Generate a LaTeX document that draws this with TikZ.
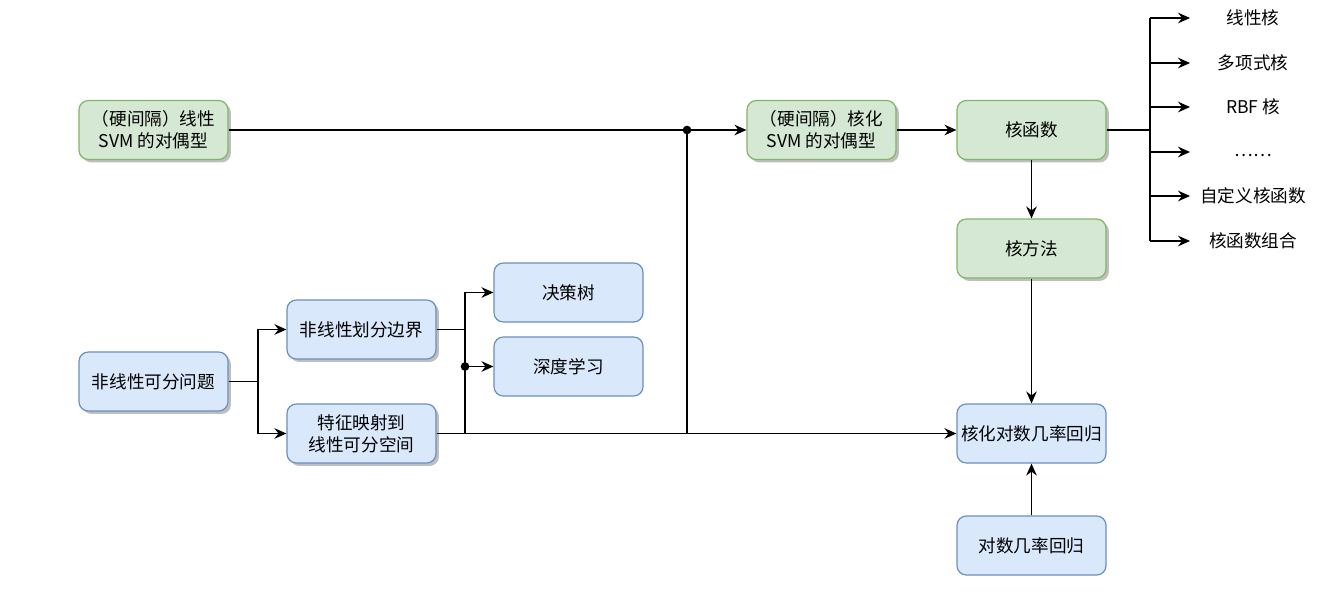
\documentclass[tikz,border=0pt]{standalone}
\usepackage{fontspec}
\setmainfont{Noto Sans CJK SC}
\usetikzlibrary{arrows.meta,shadows}
\definecolor{gfill}{HTML}{D5E8D4}
\definecolor{gdraw}{HTML}{82B366}
\definecolor{bfill}{HTML}{DAE8FC}
\definecolor{bdraw}{HTML}{6C8EBF}
\tikzset{
  boxbase/.style={rounded corners=7pt, minimum width=111.75pt, minimum height=44.25pt, align=center, font=\fontsize{13.2pt}{16.5pt}\selectfont, line width=0.9pt, inner sep=0pt},
  shad/.style={drop shadow={shadow xshift=2.2pt, shadow yshift=-2.2pt, fill=black, opacity=0.25}},
  gbox/.style={boxbase, fill=gfill, draw=gdraw, shad},
  bbox/.style={boxbase, fill=bfill, draw=bdraw},
  bboxs/.style={bbox, shad},
  lbl/.style={font=\fontsize{13.2pt}{16.5pt}\selectfont, inner sep=0pt},
  conn/.style={line width=0.85pt, draw=black},
  arr/.style={conn, -{Stealth[length=9pt, width=8pt, inset=3pt]}},
  jdot/.style={circle, fill=black, inner sep=0pt, minimum size=6.5pt}
}
\begin{document}
\begin{tikzpicture}[x=0.75pt, y=-0.75pt]
\useasboundingbox (0,0) rectangle (1344,596);
% nodes
\node[gbox] (A) at (153.5,130) {（硬间隔）线性\\SVM 的对偶型};
\node[gbox] (B) at (821.5,130) {（硬间隔）核化\\SVM 的对偶型};
\node[gbox] (KF) at (1031.5,130) {核函数};
\node[gbox] (KM) at (1031.5,248.5) {核方法};
\node[bbox] (KLR) at (1031.5,433.5) {核化对数几率回归};
\node[bbox] (LR) at (1031.5,545.5) {对数几率回归};
\node[bboxs] (P) at (153.5,381.5) {非线性可分问题};
\node[bboxs] (N) at (361.5,329.5) {非线性划分边界};
\node[bboxs] (F) at (361.5,433.5) {特征映射到\\线性可分空间};
\node[bbox] (DT) at (568.5,292.5) {决策树};
\node[bbox] (DL) at (568.5,366.5) {深度学习};
% list labels
\node[lbl] (t1) at (1253,18) {线性核};
\node[lbl] (t2) at (1253,63) {多项式核};
\node[lbl] (t3) at (1253,107) {RBF 核};
\node[lbl] (t4) at (1253,156) {……};
\node[lbl] (t5) at (1253,196) {自定义核函数};
\node[lbl] (t6) at (1253,241) {核函数组合};
% coordinates
\coordinate (j1) at (687,130);
\coordinate (j2) at (687,433.5);
\coordinate (k1) at (465,329.5);
\coordinate (kd) at (465,366.5);
\coordinate (k2) at (465,433.5);
\coordinate (m) at (258,381.5);
\coordinate (r) at (1150,130);
\coordinate (rt) at (1150,18);
\coordinate (rb) at (1150,241);
\foreach \i/\y in {1/18,2/63,3/107,4/152,5/196,6/241}{
  \coordinate (s\i) at (1150,\y);
  \coordinate (e\i) at (1190,\y);
}
% connectors
\draw[arr] (A) -- (B);
\draw[arr] (B) -- (KF);
\draw[arr] (KF) -- (KM);
\draw[arr] (KM) -- (KLR);
\draw[arr] (LR) -- (KLR);
\draw[arr] (F) -- (KLR);
\draw[conn] (j2) -- (j1);
\draw[conn] (P.east) -- (m);
\draw[arr] (m) |- (N.west);
\draw[arr] (m) |- (F.west);
\draw[conn] (N.east) -- (k1);
\draw[arr] (k1) |- (DT.west);
\draw[conn] (k1) -- (k2);
\draw[arr] (kd) -- (DL.west);
\draw[conn] (KF.east) -- (r);
\draw[conn] (rt) -- (rb);
\foreach \i in {1,...,6}{ \draw[arr] (s\i) -- (e\i); }
\node[jdot] at (j1) {};
\node[jdot] at (kd) {};
\end{tikzpicture}
\end{document}
